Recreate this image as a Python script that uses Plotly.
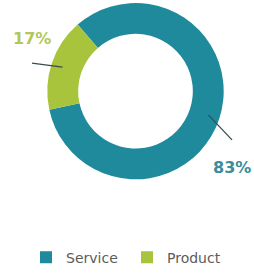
import math
import plotly.graph_objects as go

# ---- data ----
categories = ["Service", "Product"]
values = [83, 17]
colors = ["#1e8a9c", "#a8c43c"]
label_colors = ["#3b8c9c", "#b3c75a"]

W, H = 254, 274
ROT = -41  # start angle of first slice (deg, clockwise from 12 o'clock)

# pie geometry in pixels
cx, cy, R = 135.5, 92.5, 89.5
hole = 0.65


def px(x, y):
    return x / W, 1 - y / H


fig = go.Figure(go.Pie(
    labels=categories,
    values=values,
    hole=hole,
    sort=False,
    direction="clockwise",
    rotation=ROT,
    marker=dict(colors=colors, line=dict(width=0)),
    textinfo="none",
    hoverinfo="label+percent",
    domain=dict(x=[(cx - R) / W, (cx + R) / W], y=[1 - (cy + R) / H, 1 - (cy - R) / H]),
))

# label anchor positions (pixels) and leader-line end offsets
label_pos = [(232, 170), (32, 39)]
line_end_dy = [-28, 25]

total = sum(values)
start = ROT
for i, v in enumerate(values):
    span = 360 * v / total
    mid = math.radians(start + span / 2)
    start += span
    r_in = 0.86 * R
    x0 = cx + r_in * math.sin(mid)
    y0 = cy - r_in * math.cos(mid)
    lx, ly = label_pos[i]
    x1, y1 = lx, ly + line_end_dy[i]
    a0 = px(x0, y0)
    a1 = px(x1, y1)
    fig.add_shape(type="line", xref="paper", yref="paper",
                  x0=a0[0], y0=a0[1], x1=a1[0], y1=a1[1],
                  line=dict(color="#3a4a50", width=1.3))
    p = px(lx, ly)
    fig.add_annotation(x=p[0], y=p[1], xref="paper", yref="paper",
                       text="<b>%d%%</b>" % round(100 * v / total), showarrow=False,
                       font=dict(family="DejaVu Sans", size=16, color=label_colors[i]),
                       xanchor="center", yanchor="middle")

fig.update_layout(
    width=W, height=H,
    margin=dict(l=0, r=0, t=0, b=0),
    paper_bgcolor="white", plot_bgcolor="white",
    showlegend=True,
    legend=dict(orientation="h", x=0.5, xanchor="center", y=1 - 261.5 / H, yanchor="middle",
                font=dict(family="DejaVu Sans", size=14, color="#5c5c5c"),
                traceorder="normal", entrywidth=56),
)

fig.write_html("out.html", config={"displayModeBar": False},
               post_script="document.body.style.margin='0';")
